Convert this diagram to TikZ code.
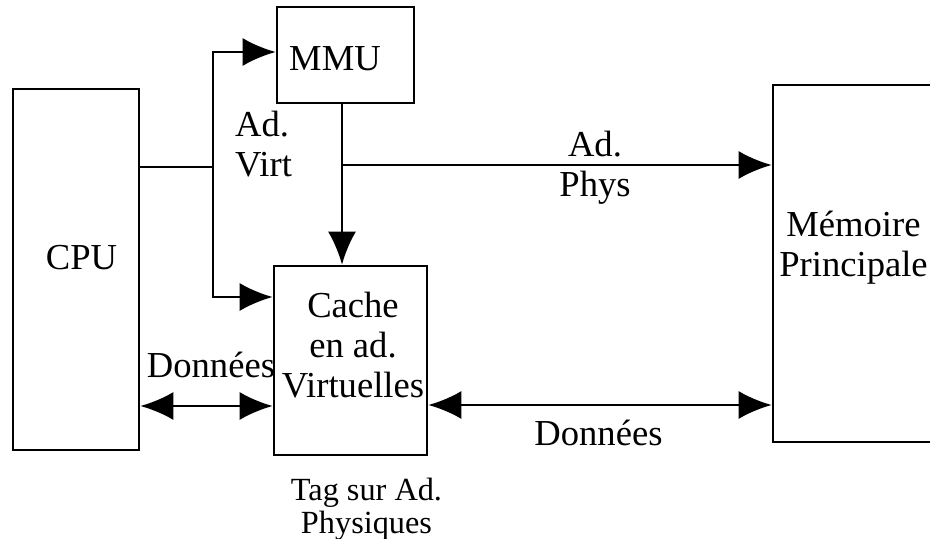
\documentclass[tikz,border=0pt]{standalone}
\usepackage{fontspec}
\setmainfont{Liberation Serif}
\usetikzlibrary{arrows.meta}
\begin{document}
\begin{tikzpicture}[x=1bp,y=-1bp,
  box/.style={draw, line width=2.6bp, inner sep=0pt, rectangle},
  txt/.style={inner sep=0pt, align=center, font=\fontsize{36.6bp}{40bp}\selectfont},
  small/.style={inner sep=0pt, align=center, font=\fontsize{32.3bp}{33bp}\selectfont},
  wire/.style={line width=2.6bp},
  tip/.tip={Latex[length=33bp,width=28bp]}]
\useasboundingbox (0,0) rectangle (930,539);
% boxes
\node[box, minimum width=126bp, minimum height=361bp] (cpu) at (76,269.5) {};
\node[box, minimum width=137bp, minimum height=96bp] (mmu) at (345.5,55) {};
\node[box, minimum width=153bp, minimum height=189bp] (cache) at (350.5,360.5) {};
\node[box, minimum width=172bp, minimum height=357bp] (mem) at (859,263.5) {};
% box texts
\node[txt] (cputxt) at (81.5,258) {CPU};
\node[txt] (mmutxt) at (335,58.5) {MMU};
\node[txt] (cachetxt) at (353,345.5) {Cache\\en ad.\\Virtuelles};
\node[txt] (memtxt) at (853.5,248) {Mémoire\\Principale};
% labels
\node[txt, align=left, anchor=west] (virt) at (235,144) {Ad.\\Virt};
\node[txt] (phys) at (595,168) {Ad.\\Phys};
\node[txt] (don1) at (211,365) {Données};
\node[txt] (don2) at (598.5,433) {Données};
\node[small] (tag) at (366.5,509.5) {Tag sur Ad.\\Physiques};
% connectors
\coordinate (b1) at (213,52);
\coordinate (b2) at (213,297);
\coordinate (b3) at (213,167);
\draw[wire] (cpu.east |- b3) -- (b3);
\draw[wire,-tip] (b2) |- (mmu.west |- b1);
\draw[wire,-tip] (b1) |- (cache.west |- b2);
\coordinate (m1) at ([xshift=-3.5bp]mmu.south);
\coordinate (m2) at (342,165);
\draw[wire,-tip] (m1) -- (m1 |- cache.north);
\draw[wire,-tip] (m2) -- (mem.west |- m2);
\draw[wire,tip-tip] (cpu.east |- 0,406) -- (cache.west |- 0,406);
\draw[wire,tip-tip] (cache.east |- 0,405) -- (mem.west |- 0,405);
\end{tikzpicture}
\end{document}
